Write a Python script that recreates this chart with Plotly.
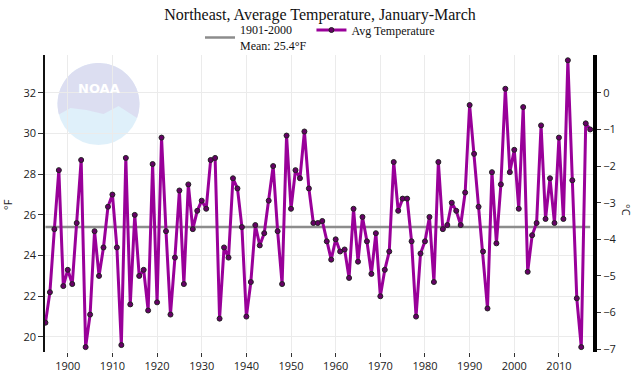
import plotly.graph_objects as go
import math

years = list(range(1895, 2018))
avg_temp_f = [
    20.7, 22.2, 25.3, 28.2, 22.5, 23.3, 22.6, 25.6, 28.7, 19.5,
    21.1, 25.2, 23.0, 24.4, 26.4, 27.0, 24.4, 19.6, 28.8, 21.6,
    26.0, 23.0, 23.3, 21.3, 28.5, 21.7, 29.8, 25.2, 21.1, 23.9,
    27.2, 22.6, 27.5, 25.3, 26.2, 26.7, 26.3, 28.7, 28.8, 20.9,
    24.4, 23.9, 27.8, 27.3, 25.4, 21.0, 22.7, 25.5, 24.5, 25.1,
    26.7, 28.4, 25.2, 22.6, 29.9, 26.3, 28.2, 27.8, 30.1, 27.3,
    25.6, 25.6, 25.7, 24.7, 23.8, 24.8, 24.2, 24.3, 22.9, 26.3,
    23.7, 25.9, 24.7, 23.1, 25.1, 22.0, 23.3, 24.2, 28.6, 26.2,
    26.8, 26.8, 24.7, 21.0, 24.1, 24.7, 25.9, 22.7, 28.6, 25.3,
    25.5, 26.6, 26.2, 25.5, 27.1, 31.4, 29.0, 26.4, 24.2, 21.4,
    28.1, 24.6, 27.5, 32.2, 28.1, 29.2, 26.3, 31.3, 23.2, 25.0,
    25.6, 30.4, 25.8, 27.8, 25.6, 29.8, 25.8, 33.6, 27.7, 21.9,
    19.5, 30.5, 30.2,
]
mean_label = "1901-2000<br>Mean: 25.4°F"
mean_value = 25.4
series_label = "Avg Temperature"
title_text = "Northeast, Average Temperature, January-March"
f_ticks = [20, 22, 24, 26, 28, 30, 32]
c_ticks = [-7, -6, -5, -4, -3, -2, -1, 0]
x_ticks = list(range(1900, 2020, 10))

W, H = 640, 375
ML, MR, MT, MB = 45, 47, 55, 23
X_RANGE = [1894.9, 2017.63]
Y_RANGE = [19.26, 33.86]
Y2_RANGE = [(Y_RANGE[0] - 32) * 5 / 9, (Y_RANGE[1] - 32) * 5 / 9]

pw = W - ML - MR
ph = H - MT - MB


def px2x(px):
    return X_RANGE[0] + (px - ML) / pw * (X_RANGE[1] - X_RANGE[0])


def py2y(py):
    return Y_RANGE[0] + (H - MB - py) / ph * (Y_RANGE[1] - Y_RANGE[0])


fig = go.Figure()

fig.add_trace(go.Scatter(
    x=[years[0], years[-1]], y=[mean_value, mean_value],
    mode="lines", name=mean_label,
    line=dict(color="#8c8c8c", width=2.5),
    hoverinfo="skip",
))
fig.add_trace(go.Scatter(
    x=years, y=avg_temp_f, mode="lines+markers", name=series_label,
    line=dict(color="#990099", width=3),
    marker=dict(size=5, color="#660066", line=dict(color="#222222", width=1)),
))
# dummy trace to show the Celsius axis
fig.add_trace(go.Scatter(
    x=[years[0]], y=[-3], yaxis="y2", mode="markers",
    marker=dict(opacity=0), showlegend=False, hoverinfo="skip",
))

# NOAA watermark (approximation)
cx, cy, r = 98.5, 104, 41
shapes = []
shapes.append(dict(
    type="circle", xref="x", yref="y", layer="below",
    x0=px2x(cx - r), x1=px2x(cx + r), y0=py2y(cy + r), y1=py2y(cy - r),
    fillcolor="#dbeef9", line=dict(width=0), opacity=0.9,
))
pts = []
for k in range(0, 41):
    a = math.radians(195 - k * (195 + 20) / 40)
    pts.append((cx + r * math.cos(a), cy - r * math.sin(a)))
pts += [(cx + 20, cy + 2), (cx + 5, cy + 10), (cx - 12, cy + 6), (cx - 28, cy + 4)]
path = "M " + " L ".join(f"{px2x(p[0]):.4f},{py2y(p[1]):.4f}" for p in pts) + " Z"
shapes.append(dict(
    type="path", xref="x", yref="y", layer="below", path=path,
    fillcolor="#dcdcef", line=dict(width=0), opacity=0.9,
))
fig.update_layout(shapes=shapes)
fig.add_annotation(
    x=px2x(cx), y=py2y(cy - 16), xref="x", yref="y", text="<b>NOAA</b>",
    showarrow=False, font=dict(family="DejaVu Sans", size=13, color="white"),
)

tickfont = dict(family="Open Sans", size=11, color="#222")
fig.update_layout(
    width=W, height=H,
    margin=dict(l=ML, r=MR, t=MT, b=MB, autoexpand=False),
    paper_bgcolor="white", plot_bgcolor="white",
    title=dict(text=title_text, x=0.5, xanchor="center", y=1 - 14 / H, yanchor="middle",
               font=dict(family="Liberation Serif", size=16, color="#111")),
    legend=dict(orientation="h", x=0.5, xanchor="center", xref="container",
                y=1 - 38 / H, yanchor="middle", yref="container",
                font=dict(family="Liberation Serif", size=12, color="#111"),
                bgcolor="rgba(0,0,0,0)", itemwidth=30, borderwidth=0),
    showlegend=True,
    xaxis=dict(range=X_RANGE, tickvals=x_ticks, showgrid=True, gridcolor="#ebebeb", gridwidth=1,
               zeroline=False, showline=False, ticks="outside", ticklen=4, tickcolor="#333",
               tickfont=tickfont, automargin=False),
    yaxis=dict(range=Y_RANGE, tickvals=f_ticks, showgrid=True, gridcolor="#ebebeb", gridwidth=1,
               zeroline=False, showline=True, linecolor="#111", linewidth=1.5,
               ticks="outside", ticklen=5, tickcolor="#333",
               tickfont=tickfont, automargin=False),
    yaxis2=dict(range=Y2_RANGE, tickvals=c_ticks, overlaying="y", side="right", showgrid=False,
                zeroline=False, showline=True, linecolor="black", linewidth=4,
                ticks="outside", ticklen=4, tickcolor="#333",
                tickfont=tickfont, automargin=False),
)

fig.add_annotation(x=(8 - ML) / pw, y=(H - MB - 205) / ph, xref="paper", yref="paper",
                   text="°F", showarrow=False, textangle=-90, xanchor="center", yanchor="middle",
                   font=dict(family="Open Sans", size=11, color="#222"))
fig.add_annotation(x=(627 - ML) / pw, y=(H - MB - 210) / ph, xref="paper", yref="paper",
                   text="°C", showarrow=False, textangle=90, xanchor="center", yanchor="middle",
                   font=dict(family="Open Sans", size=11, color="#222"))

fig.write_html("out.html", config={"displayModeBar": False},
               post_script="document.body.style.margin='0';document.body.style.overflow='hidden';")
